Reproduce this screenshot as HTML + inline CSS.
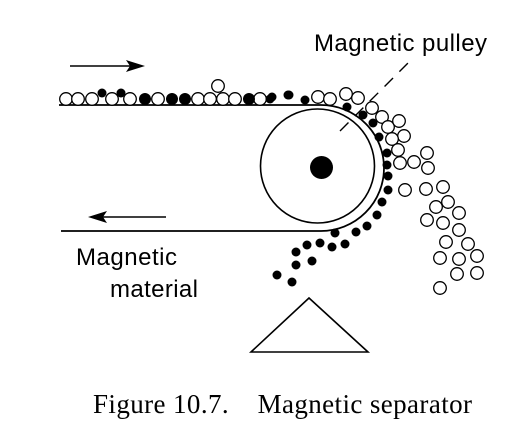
<!DOCTYPE html>
<html><head><meta charset="utf-8">
<style>
html,body{margin:0;padding:0;background:#fff;}
svg{display:block;}
</style></head>
<body>
<svg id="fig" width="520" height="434" viewBox="0 0 520 434" xmlns="http://www.w3.org/2000/svg">
  <path d="M59,105 H321 A63,63 0 0 1 321,231 H61" fill="none" stroke="#000" stroke-width="1.8"/>
  <circle cx="317.5" cy="166" r="57" fill="none" stroke="#000" stroke-width="1.6"/>
  <circle cx="321.5" cy="167.5" r="11.5" fill="#000"/>
  <g>
    <line x1="70" y1="66" x2="135" y2="66" stroke="#000" stroke-width="1.6"/>
    <polygon points="145,66 126,60 130,66 126,72" fill="#000"/>
  </g>
  <g>
    <line x1="98" y1="217" x2="166" y2="217" stroke="#000" stroke-width="1.6"/>
    <polygon points="88,217 107,211 103,217 107,223" fill="#000"/>
  </g>
  <line x1="340" y1="131" x2="409" y2="62" stroke="#000" stroke-width="1.4" stroke-dasharray="12,9"/>
  <g id="particles"></g>
  <polygon points="251,352 368,352 309,298" fill="none" stroke="#000" stroke-width="1.6"/>
  <text x="314" y="51" font-family="Liberation Sans, sans-serif" font-size="24" textLength="173">Magnetic pulley</text>
  <text x="76" y="265" font-family="Liberation Sans, sans-serif" font-size="24" textLength="101">Magnetic</text>
  <text x="110" y="297" font-family="Liberation Sans, sans-serif" font-size="24" textLength="88">material</text>
  <text x="93" y="413" font-family="Liberation Serif, serif" font-size="27" textLength="379" xml:space="preserve">Figure 10.7.    Magnetic separator</text>
</svg>
<script>
// open (non-magnetic) particles [x,y]
const openX = [66,78,92,112,130,158,198,210,223,235,260,218,318,330,346,358,372,382,388,399,404,392,398,400,414,427,428,405,426,443,448,436,459,427,443,459,446,468,440,459,477,457,477,440];
const openY = [99,99,99,99,99,99,99,99,99,99,99,86,97,99,94,98,108,117,127,121,136,139,150,163,162,153,168,190,189,187,202,207,213,220,223,230,242,244,258,259,256,274,273,288];
// black (magnetic) particles [x,y,r]
const blackX = [102,121,145,172,185,249,270,288,272,289,305,347,363,373,379,387,387,388,388,382,377,367,356,345,335,332,320,307,296,312,296,277,292];
const blackY = [93,93,99,99,99,99,99,95,97,95,100,107,115,123,137,153,165,176,190,202,215,226,232,244,233,247,243,245,252,261,265,275,282];
const blackR = [4.5,4.5,6,6,6,6,4.5,4.5,4.5,4.5,4.5,4.5,4.5,4.5,4.5,4.5,4.5,4.5,4.5,4.5,4.5,4.5,4.5,4.5,4.5,4.5,4.5,4.5,4.5,4.5,4.5,4.5,4.5];
const NS='http://www.w3.org/2000/svg';
const g=document.getElementById('particles');
for(let i=0;i<openX.length;i++){
  const c=document.createElementNS(NS,'circle');
  c.setAttribute('cx',openX[i]);c.setAttribute('cy',openY[i]);c.setAttribute('r',6.3);
  c.setAttribute('fill','#fff');c.setAttribute('stroke','#000');c.setAttribute('stroke-width','1.3');
  
  
  g.appendChild(c);
}
for(let i=0;i<blackX.length;i++){
  const c=document.createElementNS(NS,'circle');
  c.setAttribute('cx',blackX[i]);c.setAttribute('cy',blackY[i]);c.setAttribute('r',blackR[i]);
  c.setAttribute('fill','#000');
  
  
  g.appendChild(c);
}
</script>
</body></html>
